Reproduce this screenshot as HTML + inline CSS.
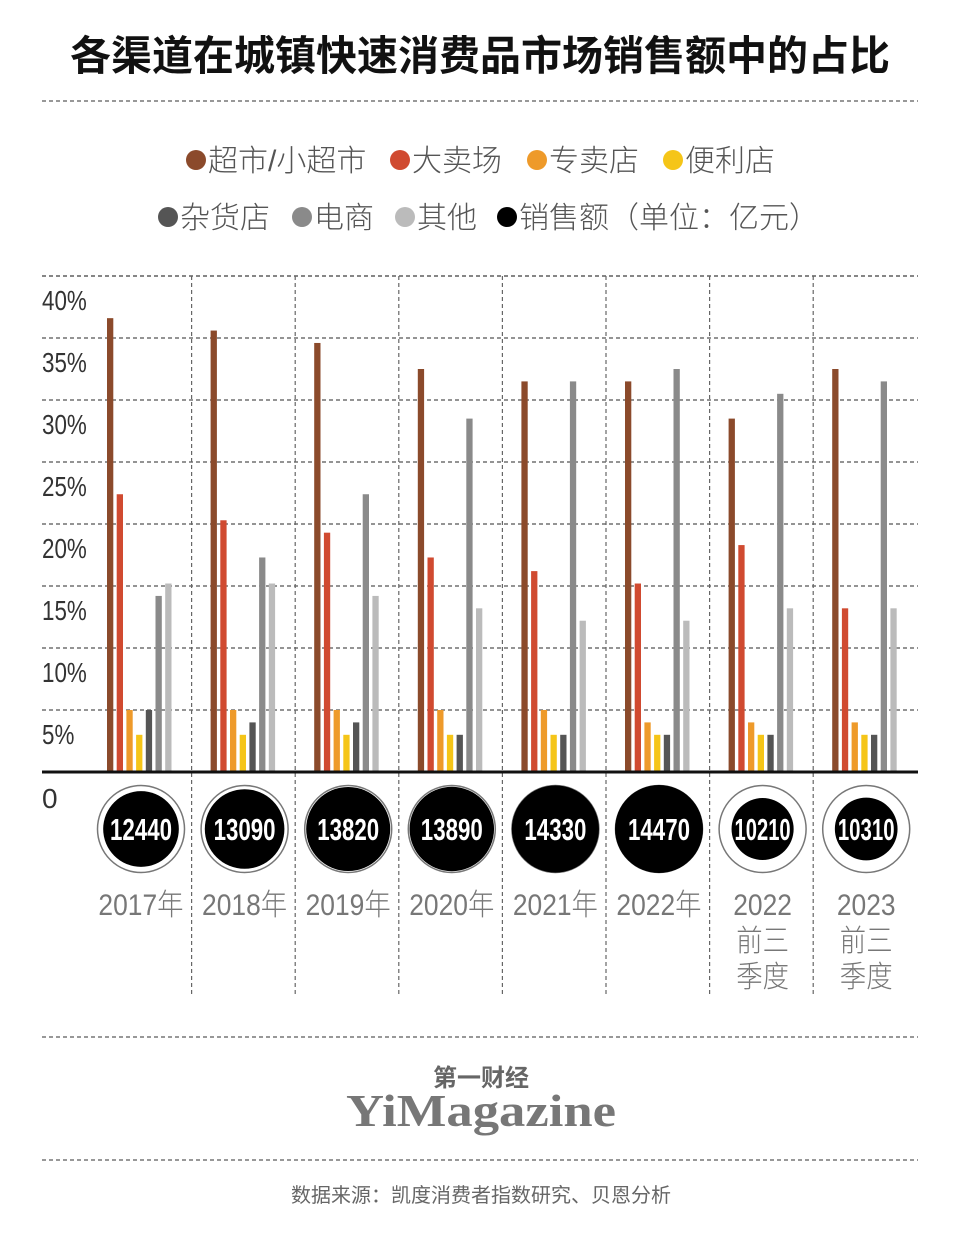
<!DOCTYPE html>
<html><head><meta charset="utf-8">
<style>
html,body{margin:0;padding:0;background:#fff;}
body{width:960px;height:1236px;overflow:hidden;position:relative;font-family:"Liberation Sans","Noto Sans CJK SC",sans-serif;}
svg{position:absolute;left:0;top:0;}
</style></head>
<body>
<svg id="chart" width="960" height="1236" viewBox="0 0 960 1236">
  <text x="480" y="70" text-anchor="middle" font-size="41" font-weight="bold" fill="#111" font-family="Liberation Sans, Noto Sans CJK SC, sans-serif">各渠道在城镇快速消费品市场销售额中的占比</text>
  <line x1="42" y1="101" x2="918" y2="101" stroke="#777" stroke-width="1.5" stroke-dasharray="4,3"/>
  <g id="legend" font-family="Liberation Sans, Noto Sans CJK SC, sans-serif" font-size="30" fill="#555" font-weight="300"></g>
  <g id="grid"></g>
  <g id="bars"></g>
  <g id="circles"></g>
  <line x1="42" y1="1037" x2="918" y2="1037" stroke="#777" stroke-width="1.5" stroke-dasharray="4,3"/>
  <text x="481" y="1086" text-anchor="middle" font-size="24" font-weight="bold" fill="#666" font-family="Liberation Sans, Noto Sans CJK SC, sans-serif">第一财经</text>
  <text x="481" y="1126" text-anchor="middle" font-size="46" font-weight="bold" fill="#777" font-family="Liberation Serif, serif" textLength="270" lengthAdjust="spacingAndGlyphs">YiMagazine</text>
  <line x1="42" y1="1160" x2="918" y2="1160" stroke="#777" stroke-width="1.5" stroke-dasharray="4,3"/>
  <text x="481" y="1202" text-anchor="middle" font-size="20" fill="#666" font-family="Liberation Sans, Noto Sans CJK SC, sans-serif">数据来源：凯度消费者指数研究、贝恩分析</text>
</svg>
<script>
const categories = ["2017年","2018年","2019年","2020年","2021年","2022年","2022\n前三\n季度","2023\n前三\n季度"];
const seriesNames = ["超市/小超市","大卖场","专卖店","便利店","杂货店","电商","其他"];
const supermarket = [36.6,35.6,34.6,32.5,31.5,31.5,28.5,32.5];
const hypermarket = [22.4,20.3,19.3,17.3,16.2,15.2,18.3,13.2];
const specialty = [5,5,5,5,5,4,4,4];
const convenience = [3,3,3,3,3,3,3,3];
const grocery = [5,4,4,3,3,3,3,3];
const ecommerce = [14.2,17.3,22.4,28.5,31.5,32.5,30.5,31.5];
const others = [15.2,15.2,14.2,13.2,12.2,12.2,13.2,13.2];
const sales = [12440,13090,13820,13890,14330,14470,10210,10310];
const yTicks = [5,10,15,20,25,30,35,40];
const yTickLabels = ["5%","10%","15%","20%","25%","30%","35%","40%"];

const NS="http://www.w3.org/2000/svg";
const colors=["#8B4A2B","#D04A30","#EE9A2A","#F5C518","#555555","#8A8A8A","#BBBBBB"];
const series=[supermarket,hypermarket,specialty,convenience,grocery,ecommerce,others];
const y0=772, pxPer=12.4, gx0=88, gw=103.6;
function yScale(v){return y0-v*pxPer;}
function gX(i){return gx0+i*gw;}
function mk(tag,attrs,parent){const e=document.createElementNS(NS,tag);for(const k in attrs)e.setAttribute(k,attrs[k]);parent.appendChild(e);return e;}

const lg=document.getElementById('legend');
const legendItems=[[0,186,160],[1,390,160],[2,527,160],[3,663,160],[4,158,217],[5,292,217],[6,395,217],[-1,497,217]];
const legendLabels=seriesNames.concat(["销售额（单位：亿元）"]);
legendItems.forEach(function(it,k){
  const c=it[0]<0?"#000":colors[it[0]];
  const d=mk('circle',{cx:it[1]+10,cy:it[2],r:10,fill:c},lg);
  
  
  const t=mk('text',{x:it[1]+22,y:it[2]+11},lg);
  t.textContent=it[0]<0?legendLabels[7]:legendLabels[it[0]];
  
  
});

const g=document.getElementById('grid');
mk('line',{x1:42,y1:yScale(40),x2:918,y2:yScale(40),stroke:"#666","stroke-width":1.2,"stroke-dasharray":"4,3"},g);
yTicks.forEach(function(v,i){
  const l=mk('line',{x1:42,y1:yScale(v),x2:918,y2:yScale(v),stroke:"#555","stroke-width":1.2,"stroke-dasharray":"4,3"},g);
  
  
  const t=mk('text',{x:42,y:yScale(v)+34,"font-size":28,fill:"#333","font-family":"Liberation Sans Narrow, Liberation Sans, sans-serif",transform:"translate(42,0) scale(0.8,1) translate(-42,0)"},g);
  t.textContent=yTickLabels[i];
  
  
});
const z=mk('text',{x:42,y:y0+36,"font-size":28,fill:"#333","font-family":"Liberation Sans Narrow, Liberation Sans, sans-serif"},g);
z.textContent="0";


for(let i=1;i<categories.length;i++){
  const l=mk('line',{x1:gX(i),y1:yScale(40),x2:gX(i),y2:995,stroke:"#666","stroke-width":1.2,"stroke-dasharray":"4,3"},g);
  
  
}

const b=document.getElementById('bars');
categories.forEach(function(c,i){
  series.forEach(function(s,k){
    const x=gX(i)+19+k*9.7;
    const r=mk('rect',{x:x,y:yScale(s[i]),width:6.3,height:y0-yScale(s[i]),fill:colors[k]},b);
    
    
  });
});
const ax=mk('line',{x1:42,y1:y0,x2:918,y2:y0,stroke:"#111","stroke-width":3},b);



const cg=document.getElementById('circles');
const maxS=Math.max.apply(null,sales);
categories.forEach(function(c,i){
  const cx=gX(i)+53, cy=829;
  const o=mk('circle',{cx:cx,cy:cy,r:43.5,fill:"#fff",stroke:"#777","stroke-width":1.5},cg);
  
  
  const rr=44*sales[i]/maxS;
  const inner=mk('circle',{cx:cx,cy:cy,r:rr,fill:"#000"},cg);
  
  
  const t=mk('text',{x:cx,y:cy+11,"text-anchor":"middle","font-size":31,"font-weight":"bold",fill:"#fff","font-family":"Liberation Sans Narrow, Liberation Sans, sans-serif",textLength:Math.min(62,2*rr-6),lengthAdjust:"spacingAndGlyphs"},cg);
  t.textContent=sales[i];
  
  
  const lines=c.split("\n");
  lines.forEach(function(ln,j){
    const yl=mk('text',{x:cx,y:915+j*36,"text-anchor":"middle","font-size":30,fill:"#777","font-weight":"300","font-family":"Liberation Sans Narrow, Liberation Sans, Noto Sans CJK SC, sans-serif",transform:"translate("+cx+",0) scale(0.88,1) translate("+(-cx)+",0)"},cg);
    yl.textContent=ln;
    
    
  });
});
</script>
</body></html>
